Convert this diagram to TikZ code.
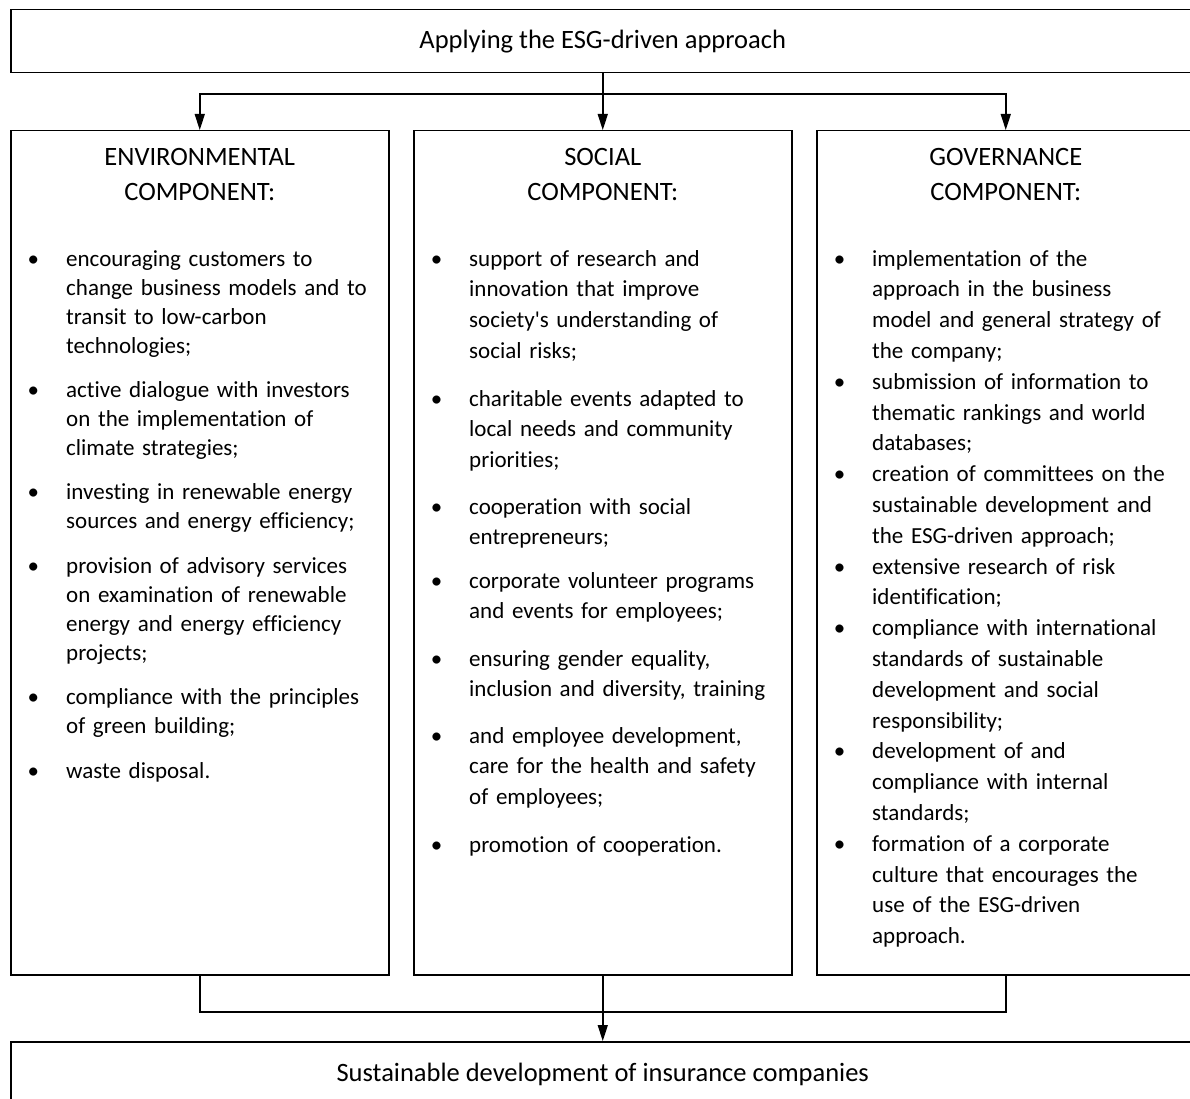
\documentclass[tikz,border=0pt]{standalone}
\usepackage{fontspec}
\setmainfont{Carlito}[Ligatures={NoCommon,NoContextual}]
\usetikzlibrary{arrows.meta,positioning}
\tikzset{
  >={Triangle[length=16pt,width=10pt]},
  boxline/.style = {draw, line width=1.5pt, inner sep=0pt, anchor=north west},
  widebox/.style = {boxline, minimum width=1184pt, font=\fontsize{26.5}{30}\selectfont},
  column/.style  = {boxline, minimum width=378pt, minimum height=844pt},
  heading/.style = {align=center, inner sep=0pt, font=\fontsize{26.5}{35}\selectfont},
  esgitem/.style = {anchor=base west, inner sep=0pt, text width=320pt, align=left,
                    font=\fontsize{23}{#1}\selectfont},
  link/.style    = {line width=1.5pt},
}
\newcommand{\bul}{\llap{•\hspace{27pt}}}

\begin{document}
\begin{tikzpicture}[x=1pt, y=-1pt]
  \useasboundingbox (0,0) rectangle (1190,1099);
  % boxes
  \node[widebox, minimum height=63pt] (apply) at (10,9) {Applying the ESG-driven approach};
  \node[column] (env) at (10,130) {};
  \node[column] (soc) at (413,130) {};
  \node[column] (gov) at (816,130) {};
  \node[widebox, minimum height=66pt] (sust) at (10,1041) {Sustainable development of insurance companies};
  % headings
  \node[heading, below=18pt of env.north] (envhead) {ENVIRONMENTAL\\COMPONENT:};
  \node[heading, below=18pt of soc.north] (sochead) {SOCIAL\\COMPONENT:};
  \node[heading, below=18pt of gov.north] (govhead) {GOVERNANCE\\COMPONENT:};
  % environmental
  \node[esgitem=29.3] (env1) at (66,266) {\bul encouraging customers to\\change business models and to\\transit to low-carbon\\technologies;};
  \node[esgitem=29.3] (env2) at (66,397) {\bul active dialogue with investors\\on the implementation of\\climate strategies;};
  \node[esgitem=29.3] (env3) at (66,499) {\bul investing in renewable energy\\sources and energy efficiency;};
  \node[esgitem=29.3] (env4) at (66,573) {\bul provision of advisory services\\on examination of renewable\\energy and energy efficiency\\projects;};
  \node[esgitem=29.3] (env5) at (66,704) {\bul compliance with the principles\\of green building;};
  \node[esgitem=29.3] (env6) at (66,778) {\bul waste disposal.};
  % social
  \node[esgitem=30.8] (soc1) at (469,266) {\bul support of research and\\innovation that improve\\society\textquotesingle s understanding of\\social risks;};
  \node[esgitem=30.8] (soc2) at (469,406) {\bul charitable events adapted to\\local needs and community\\priorities;};
  \node[esgitem=30.8] (soc3) at (469,514) {\bul cooperation with social\\entrepreneurs;};
  \node[esgitem=30.8] (soc4) at (469,588) {\bul corporate volunteer programs\\and events for employees;};
  \node[esgitem=30.8] (soc5) at (469,666) {\bul ensuring gender equality,\\inclusion and diversity, training};
  \node[esgitem=30.8] (soc6) at (469,743) {\bul and employee development,\\care for the health and safety\\of employees;};
  \node[esgitem=30.8] (soc7) at (469,852) {\bul promotion of cooperation.};
  % governance
  \node[esgitem=30.8] (gov1) at (872,266) {\bul implementation of the\\approach in the business\\model and general strategy of\\the company;};
  \node[esgitem=30.8] (gov2) at (872,389.2) {\bul submission of information to\\thematic rankings and world\\databases;};
  \node[esgitem=30.8] (gov3) at (872,481.6) {\bul creation of committees on the\\sustainable development and\\the ESG-driven approach;};
  \node[esgitem=30.8] (gov4) at (872,574) {\bul extensive research of risk\\identification;};
  \node[esgitem=30.8] (gov5) at (872,635.6) {\bul compliance with international\\standards of sustainable\\development and social\\responsibility;};
  \node[esgitem=30.8] (gov6) at (872,758.8) {\bul development of and\\compliance with internal\\standards;};
  \node[esgitem=30.8] (gov7) at (872,851.2) {\bul formation of a corporate\\culture that encourages the\\use of the ESG-driven\\approach.};
  % connectors
  \coordinate (fork) at (602,94);
  \coordinate (merge) at (602,1012);
  \draw[link, ->] (apply.south) -- (soc.north);
  \draw[link, ->] (fork) -| (env.north);
  \draw[link, ->] (fork) -| (gov.north);
  \draw[link] (env.south) |- (merge) -| (gov.south);
  \draw[link, ->] (soc.south) -- (sust.north);
\end{tikzpicture}
\end{document}
